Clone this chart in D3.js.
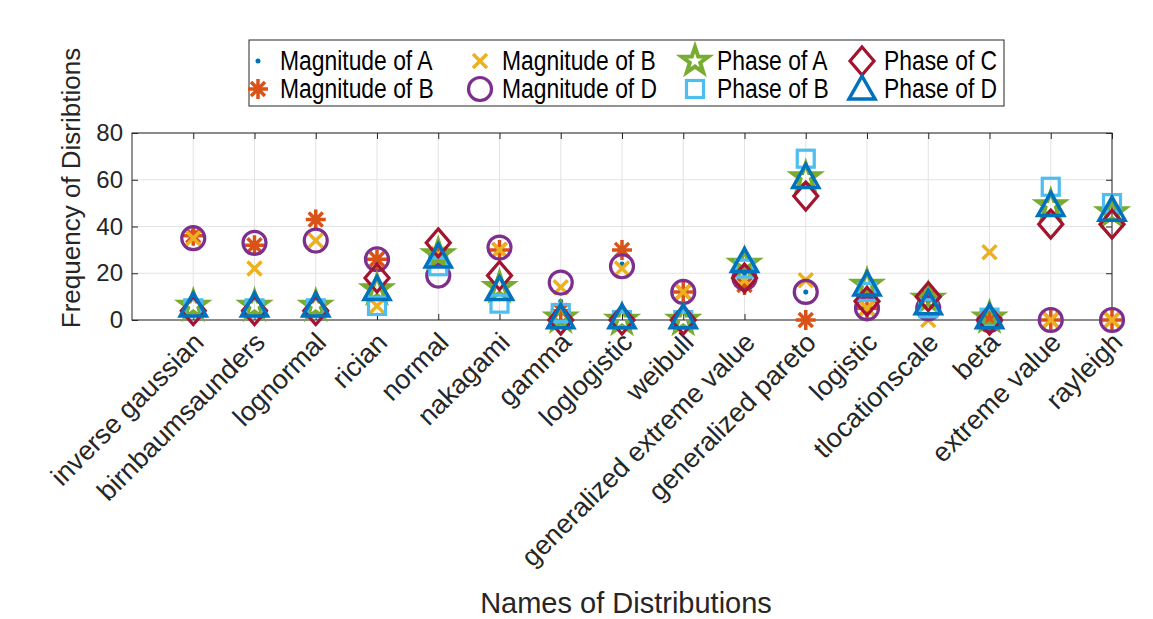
<!DOCTYPE html>
<html>
<head>
<meta charset="utf-8">
<style>
  body { margin: 0; background: #fff; }
  text { font-family: 'Liberation Sans', Arial, sans-serif; }
</style>
</head>
<body>
<div id="chart"></div>
<script src="https://cdn.jsdelivr.net/npm/d3@7"></script>
<script>
var categories = ["inverse gaussian", "birnbaumsaunders", "lognormal", "rician", "normal", "nakagami",
  "gamma", "loglogistic", "weibull", "generalized extreme value", "generalized pareto", "logistic",
  "tlocationscale", "beta", "extreme value", "rayleigh"];
var yTicks = [0, 20, 40, 60, 80];

var magA     = [38, 32, 34, 26, 28, 30, 8, 24, 12, 20, 12, 12, 8, 0, 0, 0];
var magBstar = [36, 32, 43, 26, 28, 30, 4, 30, 12, 15, 0, 5, 10, 0, 0, 0];
var magBx    = [35, 22, 34, 6, 28, 30, 14, 22, 12, 17, 17, 5, 0, 29, 0, 0];
var magD     = [35, 33, 34, 26, 19, 31, 16, 23, 12, 18, 12, 5, 5, 0, 0, 0];
var phaseA   = [6, 6, 6, 13, 28, 14, 1, 0, 0, 24, 61, 15, 9, 1, 49, 46];
var phaseB   = [5, 5, 5, 6, 23, 7, 3, 0, 0, 22, 69, 12, 5, 1, 57, 50];
var phaseC   = [4, 4, 4, 18, 33, 19, 0, 0, 0, 18, 53, 8, 10, 0, 41, 41];
var phaseD   = [6, 6, 6, 13, 27, 13, 1, 1, 1, 25, 61, 15, 7, 1, 49, 47];

var series = [
  {name: "Magnitude of A", values: magA, color: "#0072BD", shape: "dot"},
  {name: "Magnitude of B", values: magBstar, color: "#D95319", shape: "asterisk"},
  {name: "Magnitude of B", values: magBx, color: "#EDB120", shape: "x"},
  {name: "Magnitude of D", values: magD, color: "#7E2F8E", shape: "circle"},
  {name: "Phase of A", values: phaseA, color: "#77AC30", shape: "star"},
  {name: "Phase of B", values: phaseB, color: "#4DBEEE", shape: "square"},
  {name: "Phase of C", values: phaseC, color: "#A2142F", shape: "diamond"},
  {name: "Phase of D", values: phaseD, color: "#0072BD", shape: "triangle"}
];

var W = 1153, H = 619;
var pLeft = 132, pRight = 1112, pTop = 133, pBottom = 320;

var svg = d3.select("#chart").append("svg").attr("width", W).attr("height", H);

var x = d3.scaleLinear().domain([0, 16]).range([pLeft, pRight]);
var y = d3.scaleLinear().domain([0, 80]).range([pBottom, pTop]);

// grid
svg.append("g").selectAll("line").data(categories).enter().append("line")
  .attr("x1", function(d, i){ return x(i + 1); }).attr("x2", function(d, i){ return x(i + 1); })
  .attr("y1", pTop).attr("y2", pBottom).attr("stroke", "#e3e3e3");
svg.append("g").selectAll("line").data(yTicks).enter().append("line")
  .attr("x1", pLeft).attr("x2", pRight).attr("y1", function(d){ return y(d); }).attr("y2", function(d){ return y(d); })
  .attr("stroke", "#e3e3e3");

// axes
var yAxis = d3.axisLeft(y).tickValues(yTicks).tickSize(-6).tickPadding(9);
var gy = svg.append("g").attr("transform", "translate(" + pLeft + ",0)").call(yAxis);
gy.selectAll("text").style("font-size", "24px").style("font-family", "'Liberation Sans', Arial, sans-serif").attr("fill", "#262626");
var yAxisR = d3.axisRight(y).tickValues(yTicks).tickSize(-6).tickFormat("");
svg.append("g").attr("transform", "translate(" + pRight + ",0)").call(yAxisR);

var xAxis = d3.axisBottom(x).tickValues(d3.range(1, 17)).tickSize(-6).tickFormat("");
svg.append("g").attr("transform", "translate(0," + pBottom + ")").call(xAxis);
var xAxisT = d3.axisTop(x).tickValues(d3.range(1, 17)).tickSize(-6).tickFormat("");
svg.append("g").attr("transform", "translate(0," + pTop + ")").call(xAxisT);
svg.selectAll(".domain").attr("stroke", "none");
svg.selectAll(".tick line").attr("stroke", "#262626");
svg.append("rect").attr("x", pLeft).attr("y", pTop).attr("width", pRight - pLeft).attr("height", pBottom - pTop)
  .attr("fill", "none").attr("stroke", "#262626");

// rotated category labels
svg.append("g").selectAll("text").data(categories).enter().append("text")
  .attr("transform", function(d, i){ return "translate(" + (x(i + 1) + 12) + "," + (pBottom + 24) + ") rotate(-45)"; })
  .attr("text-anchor", "end").style("font-size", "27px").attr("fill", "#262626")
  .text(function(d){ return d; });

svg.append("text").attr("x", 626).attr("y", 613).attr("text-anchor", "middle")
  .style("font-size", "29px").attr("fill", "#262626").text("Names of Distributions");
svg.append("text").attr("transform", "translate(80,188) rotate(-90)")
  .attr("text-anchor", "middle").style("font-size", "26px").attr("fill", "#262626").text("Frequency of Disribtions");

// markers
function drawMarker(g, shape, color) {
  var sw = 3.2;
  if (shape === "dot") {
    g.append("circle").attr("r", 2.5).attr("fill", color);
  } else if (shape === "circle") {
    g.append("circle").attr("r", 11.5).attr("fill", "none").attr("stroke", color).attr("stroke-width", sw);
  } else if (shape === "x") {
    g.append("path").attr("d", "M-7,-7L7,7M-7,7L7,-7").attr("stroke", color).attr("stroke-width", 3.5);
  } else if (shape === "asterisk") {
    g.append("path").attr("d", "M0,-10V10M-10,0H10M-7,-7L7,7M-7,7L7,-7").attr("stroke", color).attr("stroke-width", 3.5);
  } else if (shape === "square") {
    g.append("rect").attr("x", -8.5).attr("y", -8.5).attr("width", 17).attr("height", 17)
      .attr("fill", "none").attr("stroke", color).attr("stroke-width", sw);
  } else if (shape === "diamond") {
    g.append("path").attr("d", "M0,-14L12,0L0,14L-12,0Z").attr("fill", "none").attr("stroke", color).attr("stroke-width", sw);
  } else if (shape === "triangle") {
    g.append("path").attr("d", "M0,-13L13,10L-13,10Z").attr("fill", "none").attr("stroke", color).attr("stroke-width", 3.5);
  } else if (shape === "star") {
    var pts = [];
    for (var k = 0; k < 10; k++) {
      var r = k % 2 === 0 ? 14 : 5.5, a = -Math.PI / 2 + k * Math.PI / 5;
      pts.push([r * Math.cos(a), r * Math.sin(a)]);
    }
    g.append("path").attr("d", "M" + pts.join("L") + "Z").attr("fill", "none").attr("stroke", color).attr("stroke-width", 4);
  }
}

series.forEach(function(s) {
  s.values.forEach(function(v, i) {
    var g = svg.append("g").attr("transform", "translate(" + x(i + 1) + "," + y(v) + ")");
    drawMarker(g, s.shape, s.color);
  });
});

// legend
var lg = svg.append("g");
lg.append("rect").attr("x", 249).attr("y", 40).attr("width", 755).attr("height", 66)
  .attr("fill", "#fff").attr("stroke", "#262626");
var cols = [258, 480, 695, 862];
var legendOrder = [0, 2, 4, 6, 1, 3, 5, 7];
legendOrder.forEach(function(si, k) {
  var s = series[si], row = Math.floor(k / 4), col = k % 4;
  var ly = 61 + row * 28;
  var g = lg.append("g").attr("transform", "translate(" + cols[col] + "," + ly + ")");
  drawMarker(g, s.shape, s.color);
  lg.append("text").attr("transform", "translate(" + (cols[col] + 22) + "," + (ly + 9) + ") scale(0.88,1.05)")
    .style("font-size", "26px").attr("fill", "#000").text(s.name);
});
</script>
</body>
</html>
